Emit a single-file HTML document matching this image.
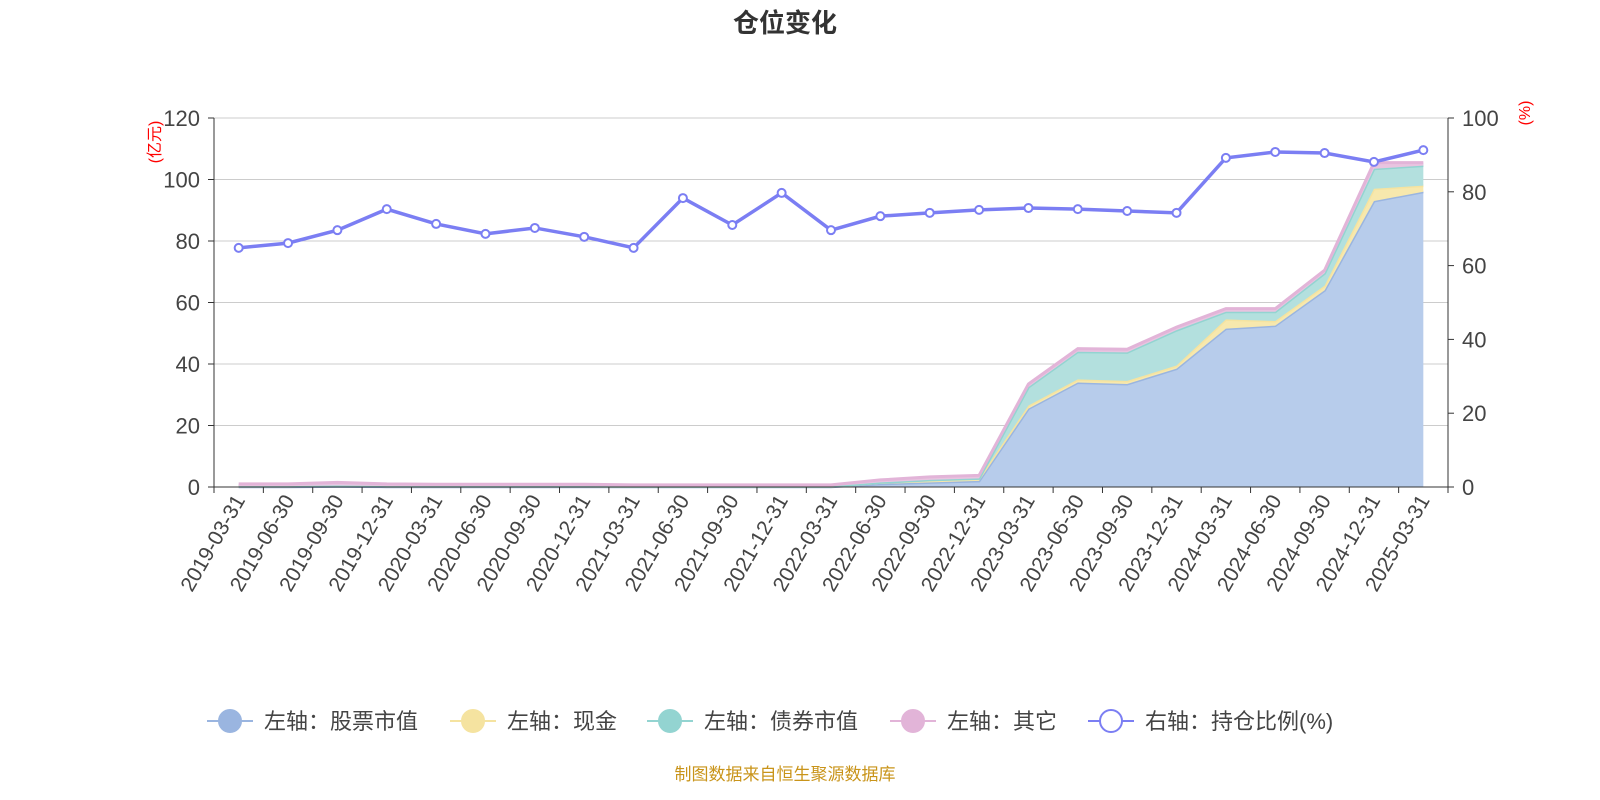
<!DOCTYPE html>
<html><head><meta charset="utf-8"><style>
body{margin:0;background:#fff;}
svg{display:block;font-family:"Liberation Sans","Noto Sans CJK SC",sans-serif;}
</style></head><body>
<svg id="c" width="1600" height="800"></svg>
<script>
const categories=["2019-03-31","2019-06-30","2019-09-30","2019-12-31","2020-03-31","2020-06-30","2020-09-30","2020-12-31","2021-03-31","2021-06-30","2021-09-30","2021-12-31","2022-03-31","2022-06-30","2022-09-30","2022-12-31","2023-03-31","2023-06-30","2023-09-30","2023-12-31","2024-03-31","2024-06-30","2024-09-30","2024-12-31","2025-03-31"];
const stocks=[0.1,0.1,0.2,0.1,0.1,0.1,0.1,0.1,0.1,0.1,0.1,0.1,0.1,1,1.5,2,25.5,34,33.5,38.5,51.5,52.5,64,93,96];
const cash=[0.2,0.2,0.3,0.2,0.2,0.2,0.2,0.2,0.1,0.1,0.1,0.1,0.1,0.5,0.8,0.8,1,1,1,1,3,1.5,1.5,4,2];
const bonds=[0,0,0,0,0,0,0,0,0,0,0,0,0,0,0,0,6,9,9.3,11.5,2.5,3,4,6.5,6.5];
const other=[0.7,0.7,1,0.7,0.6,0.6,0.6,0.6,0.5,0.5,0.5,0.5,0.5,0.8,1,1,1,1,1,1,1,1,1,2,1];
const ratio=[64.8,66.1,69.6,75.3,71.3,68.6,70.2,67.8,64.8,78.3,71.0,79.7,69.6,73.4,74.3,75.1,75.6,75.3,74.8,74.3,89.2,90.8,90.5,88.1,91.3];
const leftTicks=[0,20,40,60,80,100,120];
const rightTicks=[0,20,40,60,80,100];
const X0=214,X1=1448,Y0=487,Y1=118;
const band=(X1-X0)/categories.length;
const xs=i=>X0+band*(i+0.5);
const yl=v=>Y0-(v/120)*(Y0-Y1);
const yr=v=>Y0-(v/100)*(Y0-Y1);
const svg=document.getElementById('c');
const NS="http://www.w3.org/2000/svg";
function mk(t,a,p){const e=document.createElementNS(NS,t);for(const k in a)e.setAttribute(k,a[k]);(p||svg).appendChild(e);return e;}
function txt(s,a){const e=mk('text',a);e.textContent=s;return e;}
let t=txt('仓位变化',{x:785,y:32,'text-anchor':'middle','font-size':26,'font-weight':'bold',fill:'#333'});


leftTicks.forEach(v=>{
  if(v>0){const g=mk('line',{x1:X0,x2:X1,y1:yl(v),y2:yl(v),stroke:'#ccc'});
  
  }
  const l=txt(v,{x:X0-14,y:yl(v)+8,'text-anchor':'end','font-size':22,fill:'#444'});
  
  
  mk('line',{x1:X0-6,x2:X0,y1:yl(v),y2:yl(v),stroke:'#333'});
});
rightTicks.forEach(v=>{
  const l=txt(v,{x:X1+14,y:yr(v)+8,'text-anchor':'start','font-size':22,fill:'#444'});
  
  
  mk('line',{x1:X1,x2:X1+6,y1:yr(v),y2:yr(v),stroke:'#333'});
});
mk('line',{x1:X0,x2:X0,y1:Y1,y2:Y0,stroke:'#333'});
mk('line',{x1:X1,x2:X1,y1:Y1,y2:Y0,stroke:'#333'});
let u=txt('(亿元)',{x:0,y:0,'font-size':16,fill:'red','text-anchor':'middle',transform:`translate(160,142) rotate(-90)`});


u=txt('(%)',{x:0,y:0,'font-size':16,fill:'red','text-anchor':'middle',transform:`translate(1530,113) rotate(-90)`});


const series=[[stocks,'#b7cceb','#9ab5e0','stock-area'],[cash,'#f7e8ad','#f5e3a0','cash-area'],[bonds,'#b3e0de','#93d4d1','bond-area'],[other,'#e8c4e0','#e2b4d8','other-area']];
let base=categories.map(()=>0);
series.forEach(([d,fill,stroke,name])=>{
  const top=base.map((b,i)=>b+d[i]);
  let p=top.map((v,i)=>`${i?'L':'M'}${xs(i)},${yl(v)}`).join('');
  let q=p;
  for(let i=base.length-1;i>=0;i--)q+=`L${xs(i)},${yl(base[i])}`;
  const a=mk('path',{d:q+'Z',fill:fill,stroke:'none'});
  
  
  const l=mk('path',{d:p,fill:'none',stroke:stroke,'stroke-width':3});
  
  
  base=top;
});
mk('line',{x1:X0,x2:X1,y1:Y0,y2:Y0,stroke:'#333'});
for(let i=0;i<=categories.length;i++){mk('line',{x1:X0+band*i,x2:X0+band*i,y1:Y0,y2:Y0+6,stroke:'#333'});}
categories.forEach((c,i)=>{
  const l=txt(c,{x:0,y:0,'text-anchor':'end','font-size':21,fill:'#444',transform:`translate(${xs(i)+7},${Y0+13}) rotate(-60)`});
  
  
});
const rl=mk('path',{d:ratio.map((v,i)=>`${i?'L':'M'}${xs(i)},${yr(v)}`).join(''),fill:'none',stroke:'#7b7ef3','stroke-width':3.5});


ratio.forEach((v,i)=>{const c=mk('circle',{cx:xs(i),cy:yr(v),r:4,fill:'#fff',stroke:'#7b7ef3','stroke-width':2});

});
const leg=[['左轴：股票市值','#9ab5e0',207,true],['左轴：现金','#f5e3a0',450,true],['左轴：债券市值','#93d4d1',647,true],['左轴：其它','#e2b4d8',890,true],['右轴：持仓比例(%)','#7b7ef3',1088,false]];
leg.forEach(([s,c,x,f])=>{
  const g=mk('g',{});
  
  
  mk('line',{x1:x,x2:x+46,y1:721,y2:721,stroke:c,'stroke-width':2},g);
  mk('circle',{cx:x+23,cy:721,r:11,fill:f?c:'#fff',stroke:c,'stroke-width':2},g);
  const tt=mk('text',{x:x+57,y:729,'font-size':22,fill:'#444'},g);tt.textContent=s;
});
const ft=txt('制图数据来自恒生聚源数据库',{x:785,y:780,'text-anchor':'middle','font-size':17,fill:'#c9941a'});


</script>
</body></html>
